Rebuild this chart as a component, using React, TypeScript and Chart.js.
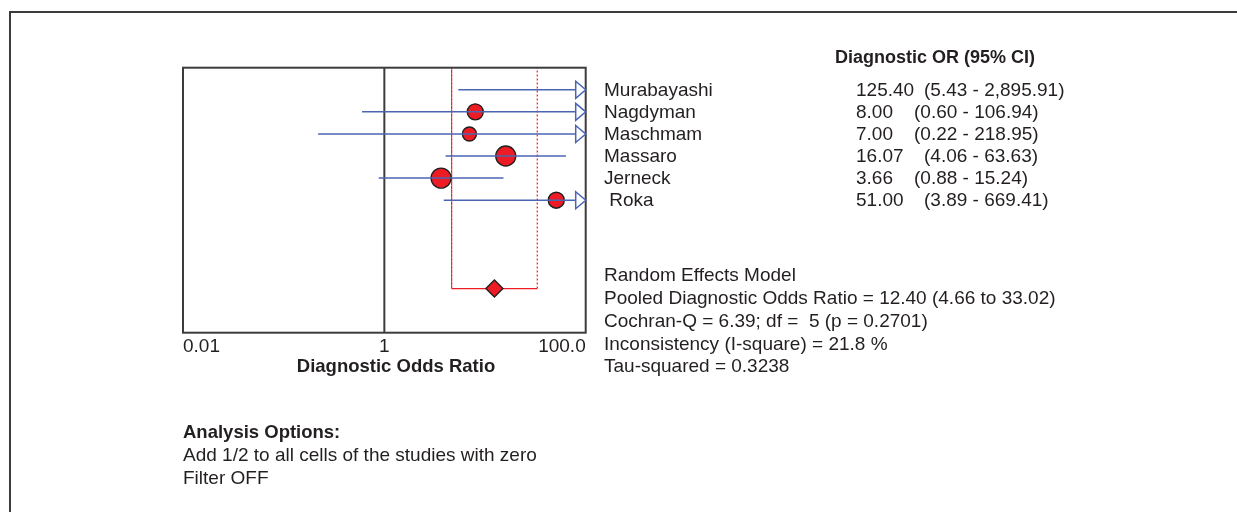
import React, { useEffect, useRef } from "react";
import { Chart, registerables } from "chart.js";

Chart.register(...registerables);

// ---------------- data ----------------
const studies = ["Murabayashi", "Nagdyman", "Maschmam", "Massaro", "Jerneck", " Roka"];
const oddsRatio = [125.4, 8.0, 7.0, 16.07, 3.66, 51.0];
const ciLower = [5.43, 0.6, 0.22, 4.06, 0.88, 3.89];
const ciUpper = [2895.91, 106.94, 218.95, 63.63, 15.24, 669.41];
const studyWeights = [11.5, 16.0, 12.3, 25.0, 25.0, 16.0];

const pooledOR = 12.4;
const pooledLower = 4.66;
const pooledUpper = 33.02;
const cochranQ = 6.39;
const cochranDf = 5;
const cochranP = 0.2701;
const iSquare = 21.8;
const tauSquared = 0.3238;

const xTickValues = [0.01, 1, 100];
const xTickLabels = ["0.01", "1", "100.0"];
const X_MIN = 0.01;
const X_MAX = 100;

const headerText = "Diagnostic OR (95% CI)";
const axisTitle = "Diagnostic Odds Ratio";
const modelTitle = "Random Effects Model";
const optionsTitle = "Analysis Options:";
const optionsLines = ["Add 1/2 to all cells of the studies with zero", "Filter OFF"];

// ---------------- style ----------------
const FONT = "'Liberation Sans', Arial, Helvetica, sans-serif";
const TEXT = "#231f20";
const BLUE = "#4a66b3";
const RED = "#ed1c24";
const FRAME = "#3c3c3c";
const POOLED_ROW = 10;
const Y_MAX = 12;
const AREA = { left: 183, right: 585.7, top: 67.7, bottom: 332.7 };
const W = 1237;
const H = 512;
const X_AXIS_H = 30;

const fmt = (v: number) =>
  v.toLocaleString("en-US", { minimumFractionDigits: 2, maximumFractionDigits: 2 });

const forestPlugin = {
  id: "forestExtras",
  afterDatasetsDraw(chart: any) {
    const { ctx, chartArea: a, scales } = chart;
    const x = scales.x;
    const y = scales.y;
    ctx.save();
    // frame
    ctx.strokeStyle = FRAME;
    ctx.lineWidth = 2;
    ctx.strokeRect(a.left, a.top, a.right - a.left, a.bottom - a.top);

    // arrows for CIs beyond the axis
    studies.forEach((_, i) => {
      if (ciUpper[i] > X_MAX) {
        const py = y.getPixelForValue(i + 1);
        const tip = x.getPixelForValue(X_MAX);
        ctx.beginPath();
        ctx.moveTo(tip - 10, py - 8.5);
        ctx.lineTo(tip, py);
        ctx.lineTo(tip - 10, py + 8.5);
        ctx.closePath();
        ctx.fillStyle = "#ffffff";
        ctx.fill();
        ctx.strokeStyle = BLUE;
        ctx.lineWidth = 1.5;
        ctx.stroke();
      }
    });

    ctx.fillStyle = TEXT;
    ctx.textBaseline = "middle";
    ctx.textAlign = "left";

    // header
    ctx.font = `bold 18px ${FONT}`;
    ctx.fillText(headerText, 835, 58);

    // axis title
    ctx.textAlign = "center";
    ctx.font = `bold 18.5px ${FONT}`;
    ctx.fillText(axisTitle, 396, 367);
    ctx.textAlign = "left";

    // study rows
    ctx.font = `19px ${FONT}`;
    studies.forEach((s, i) => {
      const py = y.getPixelForValue(i + 1) + 0.5;
      ctx.fillText(s, 604, py);
      const v = fmt(oddsRatio[i]);
      ctx.fillText(v, 856, py);
      const w = ctx.measureText(v).width;
      const cx = 856 + (w > 45 ? 68 : 58);
      ctx.fillText(`(${fmt(ciLower[i])} - ${fmt(ciUpper[i])})`, cx, py);
    });

    // summary
    const summary = [
      modelTitle,
      `Pooled Diagnostic Odds Ratio = ${fmt(pooledOR)} (${fmt(pooledLower)} to ${fmt(pooledUpper)})`,
      `Cochran-Q = ${cochranQ.toFixed(2)}; df =  ${cochranDf} (p = ${cochranP.toFixed(4)})`,
      `Inconsistency (I-square) = ${iSquare.toFixed(1)} %`,
      `Tau-squared = ${tauSquared.toFixed(4)}`,
    ];
    summary.forEach((t, k) => ctx.fillText(t, 604, 276 + k * 22.8));

    // analysis options
    ctx.font = `bold 18.5px ${FONT}`;
    ctx.fillText(optionsTitle, 183, 433);
    ctx.font = `19px ${FONT}`;
    optionsLines.forEach((t, k) => ctx.fillText(t, 183, 456 + k * 22.5));

    ctx.restore();
  },
};

export default function App() {
  const ref = useRef<HTMLCanvasElement>(null);

  useEffect(() => {
    if (!ref.current) return;

    const ciDatasets = studies.map((_, i) => ({
      type: "line" as const,
      data: [
        { x: ciLower[i], y: i + 1 },
        { x: ciUpper[i], y: i + 1 },
      ],
      borderColor: BLUE,
      borderWidth: 1.5,
      pointRadius: 0,
      showLine: true,
      order: 1,
    }));

    const pointData = studies
      .map((_, i) => ({ x: oddsRatio[i], y: i + 1, r: 2 * Math.sqrt(studyWeights[i]) }))
      .filter((p) => p.x <= X_MAX);

    const chart = new Chart(ref.current, {
      type: "scatter",
      data: {
        datasets: [
          ...ciDatasets,
          {
            type: "scatter" as const,
            data: pointData,
            pointRadius: (c: any) => c.raw?.r ?? 0,
            pointHoverRadius: (c: any) => c.raw?.r ?? 0,
            backgroundColor: RED,
            borderColor: TEXT,
            borderWidth: 1.4,
            order: 3,
          },
          {
            type: "line" as const,
            data: [
              { x: pooledLower, y: 0 },
              { x: pooledLower, y: POOLED_ROW },
              { x: pooledUpper, y: POOLED_ROW },
              { x: pooledUpper, y: 0 },
            ],
            borderColor: RED,
            borderWidth: 1.2,
            pointRadius: 0,
            showLine: true,
            segment: {
              borderDash: (c: any) => (c.p0DataIndex === 1 ? [] : [2, 2]),
            },
            order: 4,
          },
          {
            type: "line" as const,
            data: [
              { x: 1, y: 0 },
              { x: 1, y: Y_MAX },
            ],
            borderColor: FRAME,
            borderWidth: 2,
            pointRadius: 0,
            showLine: true,
            order: 5,
          },
          {
            type: "scatter" as const,
            data: [{ x: pooledOR, y: POOLED_ROW }],
            pointStyle: "rectRot",
            pointRadius: 8.5,
            pointHoverRadius: 8.5,
            backgroundColor: RED,
            borderColor: TEXT,
            borderWidth: 1.4,
            order: 0,
          },
        ],
      },
      options: {
        animation: false,
        responsive: true,
        maintainAspectRatio: false,
        events: [],
        layout: {
          padding: {
            left: AREA.left,
            right: W - AREA.right,
            top: AREA.top,
            bottom: H - AREA.bottom - X_AXIS_H,
          },
        },
        plugins: { legend: { display: false }, tooltip: { enabled: false } },
        scales: {
          x: {
            type: "logarithmic",
            min: X_MIN,
            max: X_MAX,
            afterBuildTicks: (s: any) => {
              s.ticks = xTickValues.map((v) => ({ value: v }));
            },
            afterFit: (s: any) => {
              s.height = X_AXIS_H;
            },
            grid: { display: false, drawTicks: false },
            border: { display: false },
            ticks: {
              align: "inner",
              autoSkip: false,
              maxRotation: 0,
              padding: 3,
              color: TEXT,
              font: { family: FONT, size: 19 },
              callback: (_v: any, i: number) => xTickLabels[i],
            },
          },
          y: {
            type: "linear",
            display: false,
            min: 0,
            max: Y_MAX,
            reverse: true,
          },
        },
      },
      plugins: [forestPlugin],
    } as any);

    return () => chart.destroy();
  }, []);

  return (
    <div style={{ position: "absolute", left: 0, top: 0, width: W, height: H, background: "#fff" }}>
      <div
        style={{
          position: "absolute",
          left: 9,
          top: 11,
          right: 0,
          bottom: 0,
          borderTop: `2px solid ${FRAME}`,
          borderLeft: `2px solid ${FRAME}`,
        }}
      />
      <div style={{ position: "absolute", left: 0, top: 0, width: W, height: H }}>
        <canvas ref={ref} />
      </div>
    </div>
  );
}
